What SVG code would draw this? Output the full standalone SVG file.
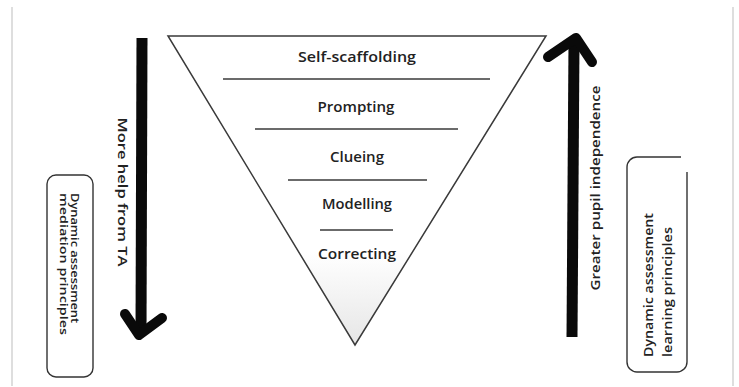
<svg xmlns="http://www.w3.org/2000/svg" width="739" height="387" viewBox="0 0 739 387">
  <defs>
    <style>
      .frame { stroke: #c8c8c8; stroke-width: 1.2; fill: none; }
      .tri { stroke: #3a3a3a; stroke-width: 1.5; stroke-linejoin: miter; }
      .rule { stroke: #3a3a3a; stroke-width: 1.4; fill: none; }
      .level { font-family: "Open Sans", "DejaVu Sans", sans-serif; font-weight: 600; font-size: 14px; fill: #222; text-anchor: middle; }
      .shaft { stroke: #0a0a0a; stroke-width: 11; fill: none; stroke-linecap: butt; }
      .head { stroke: #0a0a0a; stroke-width: 10; fill: none; stroke-linecap: round; stroke-linejoin: round; }
      .arrowlabel { font-family: "Open Sans", "DejaVu Sans", sans-serif; font-weight: 600; font-size: 13px; fill: #222; text-anchor: middle; }
      .box { fill: #fff; stroke: #333; stroke-width: 1.4; }
      .boxline { fill: none; stroke: #333; stroke-width: 1.4; }
      .boxtext { font-family: "Open Sans", "DejaVu Sans", sans-serif; font-weight: 600; fill: #222; }
    </style>
    <linearGradient id="funnelFill" x1="0" y1="0" x2="0" y2="1">
      <stop offset="0" stop-color="#ffffff"/>
      <stop offset="0.7" stop-color="#ffffff"/>
      <stop offset="1" stop-color="#e6e6e6"/>
    </linearGradient>
  </defs>

  <rect x="0" y="0" width="739" height="387" fill="#ffffff"/>

  <!-- page edges -->
  <line class="frame" x1="12" y1="7" x2="12" y2="386"/>
  <line class="frame" x1="733" y1="7" x2="733" y2="386"/>

  <!-- inverted triangle with its five levels -->
  <g id="funnel">
    <polygon class="tri" points="168,36 546,36 355,345" fill="url(#funnelFill)"/>
    <line class="rule" x1="223" y1="79" x2="490" y2="79"/>
    <line class="rule" x1="255" y1="129" x2="458" y2="129"/>
    <line class="rule" x1="288" y1="180" x2="427" y2="180"/>
    <line class="rule" x1="320" y1="230" x2="393" y2="230"/>
  </g>
  <g id="level-self-scaffolding">
    <text class="level" x="357" y="62" textLength="118" lengthAdjust="spacingAndGlyphs">Self-scaffolding</text>
  </g>
  <g id="level-prompting">
    <text class="level" x="356" y="112" textLength="77" lengthAdjust="spacingAndGlyphs">Prompting</text>
  </g>
  <g id="level-clueing">
    <text class="level" x="357" y="162" textLength="54" lengthAdjust="spacingAndGlyphs">Clueing</text>
  </g>
  <g id="level-modelling">
    <text class="level" x="357" y="209" textLength="70" lengthAdjust="spacingAndGlyphs">Modelling</text>
  </g>
  <g id="level-correcting">
    <text class="level" x="357" y="259" textLength="78" lengthAdjust="spacingAndGlyphs">Correcting</text>
  </g>

  <!-- side arrows -->
  <g id="connectors">
    <g id="arrow-more-help">
      <line class="shaft" x1="142" y1="38" x2="141" y2="332"/>
      <path class="head" d="M125,314 L139,335 L162,318"/>
      <text class="arrowlabel" transform="translate(118,192) rotate(90)" textLength="149" lengthAdjust="spacingAndGlyphs">More help from TA</text>
    </g>
    <g id="arrow-independence">
      <line class="shaft" x1="572" y1="337" x2="574" y2="42"/>
      <path class="head" d="M548,57 L576,38 L592,62"/>
      <text class="arrowlabel" transform="translate(600,188) rotate(-90)" font-size="14" textLength="205" lengthAdjust="spacingAndGlyphs">Greater pupil independence</text>
    </g>
  </g>

  <!-- left label box -->
  <g id="box-mediation">
    <rect class="box" x="47" y="175" width="46" height="202" rx="9"/>
    <text class="boxtext" font-size="11" transform="translate(71,193) rotate(90)" textLength="130" lengthAdjust="spacingAndGlyphs">Dynamic assessment</text>
    <text class="boxtext" font-size="11" transform="translate(60,193) rotate(90)" textLength="142" lengthAdjust="spacingAndGlyphs">mediation principles</text>
  </g>

  <!-- right label box, outline left open at the top-right corner -->
  <g id="box-learning">
    <rect x="627" y="157" width="60" height="215" rx="10" fill="#fff"/>
    <path class="boxline" d="M681,157 H637 A10,10 0 0 0 627,167 V362 A10,10 0 0 0 637,372 H677 A10,10 0 0 0 687,362 V172"/>
    <text class="boxtext" font-size="13" transform="translate(653,357) rotate(-90)" textLength="144" lengthAdjust="spacingAndGlyphs">Dynamic assessment</text>
    <text class="boxtext" font-size="13" transform="translate(672,357) rotate(-90)" textLength="130" lengthAdjust="spacingAndGlyphs">learning principles</text>
  </g>
</svg>
